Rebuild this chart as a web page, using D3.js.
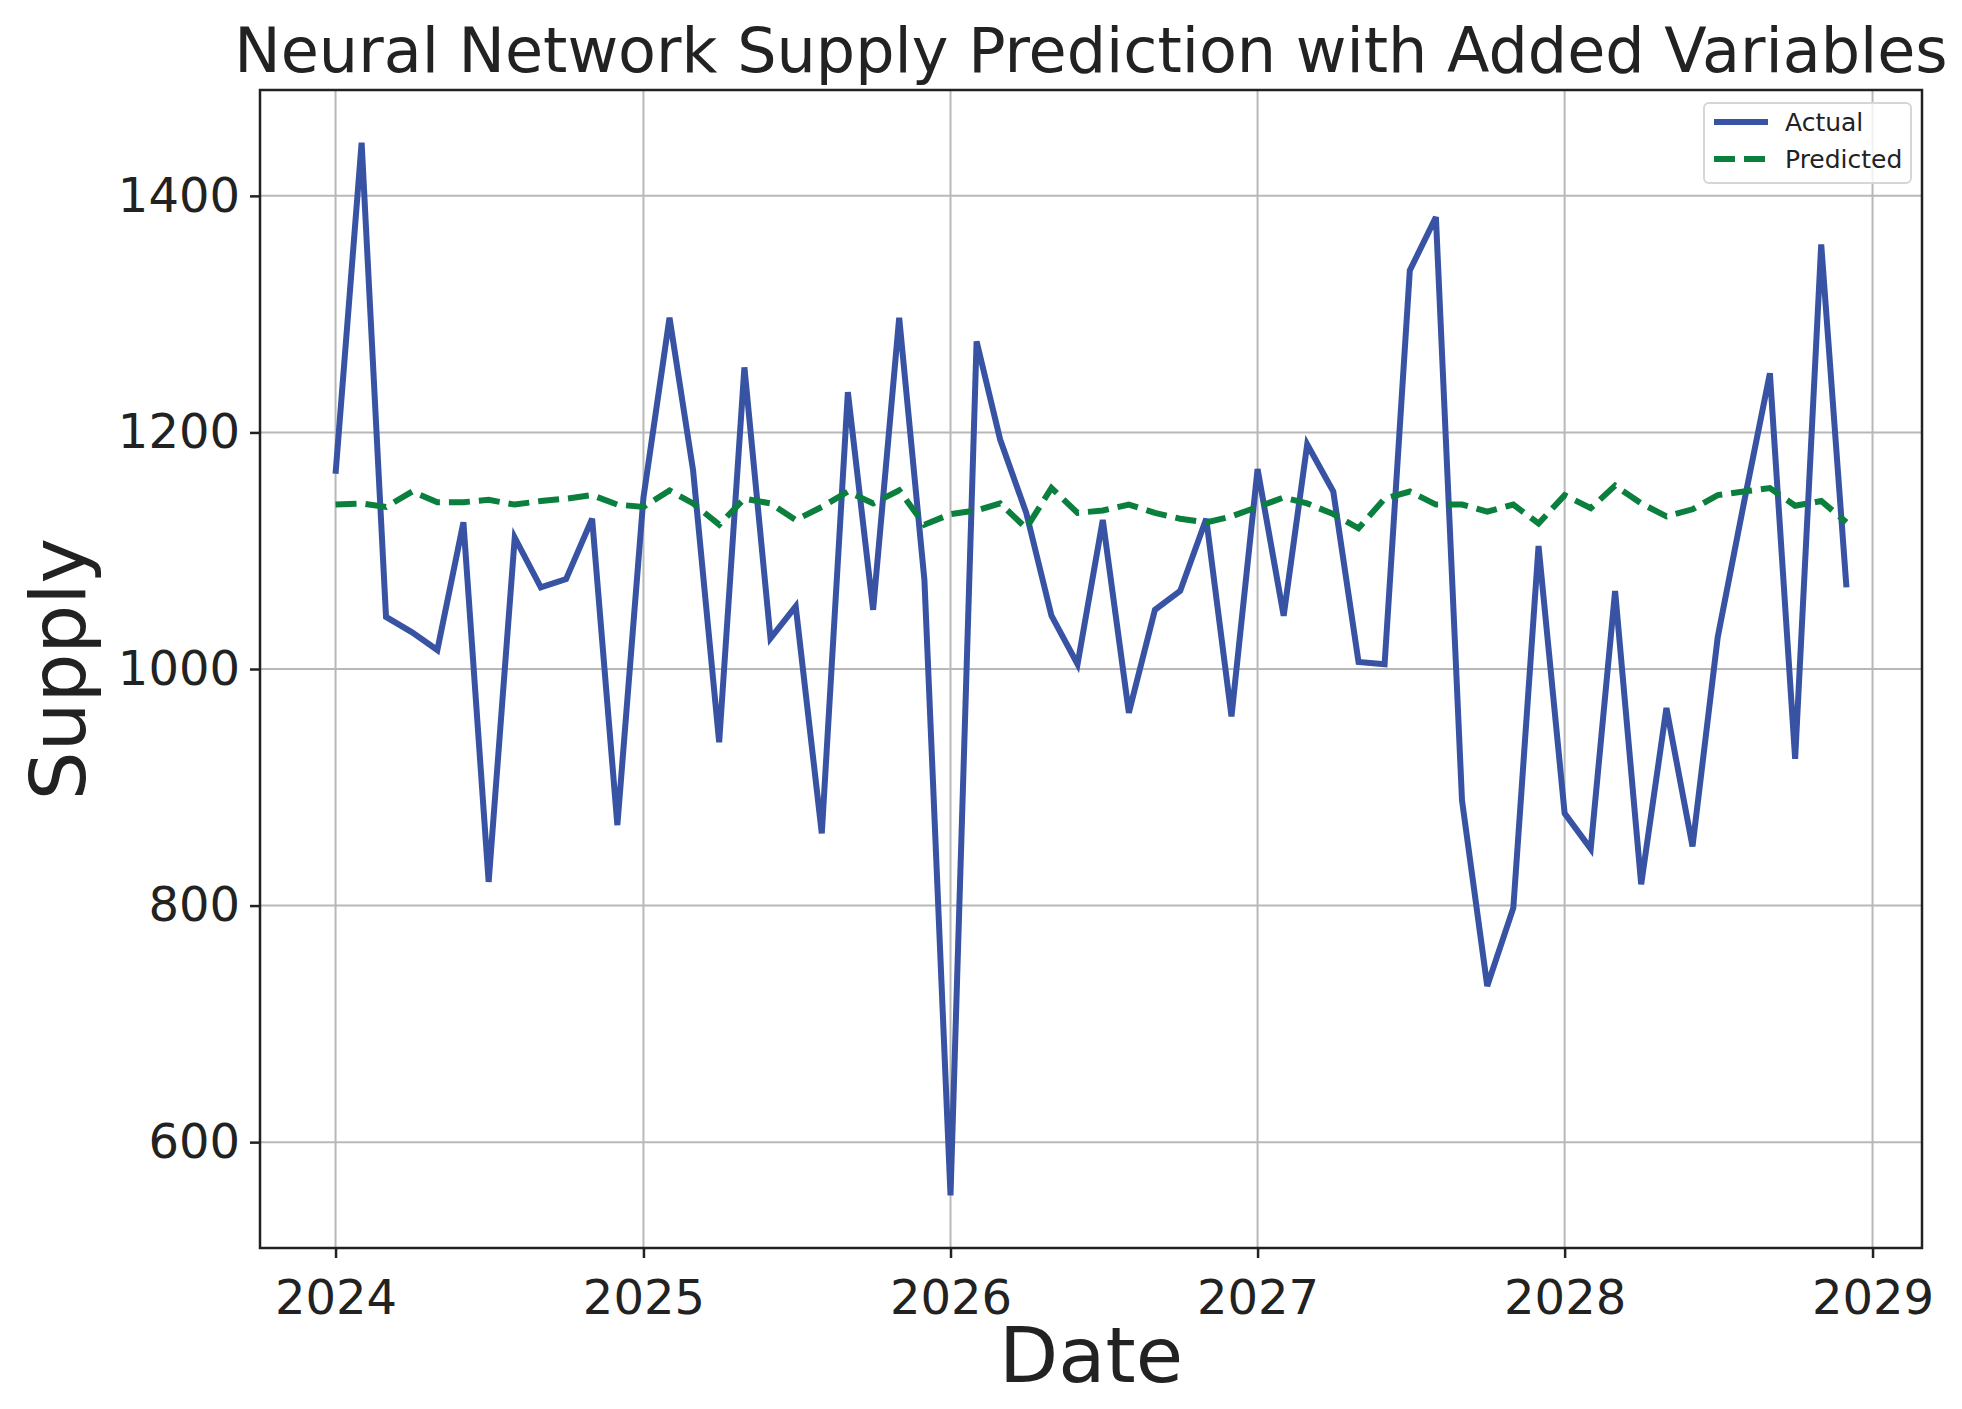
<!DOCTYPE html>
<html>
<head>
  <meta charset="utf-8">
  <style>
    body { margin: 0; background: #fff; }
    text { font-family: "DejaVu Sans", sans-serif; fill: #222; }
  </style>
</head>
<body>
<svg id="chart" width="1962" height="1409"></svg>
<script src="https://d3js.org/d3.v7.min.js"></script>
<script>
var months = d3.timeMonths(new Date(2024, 0, 1), new Date(2029, 0, 1));

var actual = [
  1165, 1445, 1044, 1031, 1016, 1124, 820, 1111, 1069, 1076, 1127, 868,
  1145, 1297, 1168, 938, 1255, 1026, 1053, 861, 1234, 1050, 1297, 1075,
  555, 1277, 1194, 1132, 1045, 1004, 1126, 963, 1050, 1066, 1127, 960,
  1169, 1045, 1190, 1150, 1006, 1004, 1337, 1382, 889, 732, 798, 1104,
  878, 848, 1066, 818, 967, 850, 1027, 1140, 1250, 924, 1359, 1069
];

var predicted = [
  1139, 1140, 1137, 1150, 1141, 1141, 1143, 1139, 1142, 1144, 1147, 1139,
  1137, 1151, 1140, 1122, 1144, 1140, 1126, 1137, 1150, 1140, 1151, 1122,
  1131, 1134, 1140, 1119, 1153, 1132, 1134, 1139, 1132, 1127, 1124, 1129,
  1137, 1145, 1140, 1131, 1119, 1144, 1150, 1139, 1139, 1133, 1139, 1123,
  1147, 1136, 1155, 1140, 1129, 1135, 1147, 1150, 1153, 1138, 1142, 1124
];

var yTicks = [600, 800, 1000, 1200, 1400];
var xTicks = [2024, 2025, 2026, 2027, 2028, 2029];
var seriesNames = ["Actual", "Predicted"];
var seriesColors = ["#3953a4", "#0b7f3e"];

var margin = {top: 90, right: 40, bottom: 161, left: 260},
    width = 1962 - margin.left - margin.right,
    height = 1409 - margin.top - margin.bottom;

var svg = d3.select("#chart")
  .append("g")
    .attr("transform", "translate(" + margin.left + "," + margin.top + ")");

// matplotlib style 5% padding on both axes
var t0 = months[0].getTime(), t1 = months[months.length - 1].getTime();
var tPad = (t1 - t0) * 0.05;
var x = d3.scaleTime()
    .domain([new Date(t0 - tPad), new Date(t1 + tPad)])
    .range([0, width]);

var all = actual.concat(predicted);
var yMin = d3.min(all), yMax = d3.max(all), yPad = (yMax - yMin) * 0.05;
var y = d3.scaleLinear()
    .domain([yMin - yPad, yMax + yPad])
    .range([height, 0]);

var xAxis = d3.axisBottom(x)
    .tickValues(xTicks.map(function(yr) { return new Date(yr, 0, 1); }))
    .tickFormat(d3.timeFormat("%Y"))
    .tickSize(10).tickPadding(10);

var yAxis = d3.axisLeft(y)
    .tickValues(yTicks)
    .tickFormat(d3.format("d"))
    .tickSize(10).tickPadding(10);

// grid
svg.append("g")
  .selectAll("line")
  .data(yTicks)
  .enter().append("line")
    .attr("x1", 0).attr("x2", width)
    .attr("y1", function(d) { return y(d); })
    .attr("y2", function(d) { return y(d); })
    .style("stroke", "#b8b8b8").style("stroke-width", 2);

svg.append("g")
  .selectAll("line")
  .data(xTicks)
  .enter().append("line")
    .attr("y1", 0).attr("y2", height)
    .attr("x1", function(d) { return x(new Date(d, 0, 1)); })
    .attr("x2", function(d) { return x(new Date(d, 0, 1)); })
    .style("stroke", "#b8b8b8").style("stroke-width", 2);

var gx = svg.append("g")
    .attr("transform", "translate(0," + height + ")")
    .call(xAxis);
var gy = svg.append("g").call(yAxis);

[gx, gy].forEach(function(g) {
  g.select(".domain").remove();
  g.selectAll(".tick line").style("stroke", "#222").style("stroke-width", 2.5);
  g.selectAll(".tick text")
    .style("font-family", "DejaVu Sans")
    .style("font-size", "48px")
    .style("fill", "#222");
});
gx.selectAll(".tick text").attr("dy", "0.95em");

// lines
var line = d3.line()
    .x(function(d, i) { return x(months[i]); })
    .y(function(d) { return y(d); });

svg.append("path")
    .datum(actual)
    .attr("d", line)
    .style("fill", "none")
    .style("stroke", seriesColors[0])
    .style("stroke-width", 6)
    .style("stroke-linejoin", "miter");

svg.append("path")
    .datum(predicted)
    .attr("d", line)
    .style("fill", "none")
    .style("stroke", seriesColors[1])
    .style("stroke-width", 6)
    .style("stroke-dasharray", "21,9");

// frame
svg.append("rect")
    .attr("width", width).attr("height", height)
    .style("fill", "none").style("stroke", "#222").style("stroke-width", 2.5);

// labels
svg.append("text")
    .attr("x", width / 2).attr("y", -18)
    .style("text-anchor", "middle")
    .style("font-size", "62px")
    .text("Neural Network Supply Prediction with Added Variables");

svg.append("text")
    .attr("x", width / 2).attr("y", height + 134)
    .style("text-anchor", "middle")
    .style("font-size", "77px")
    .text("Date");

svg.append("text")
    .attr("transform", "translate(" + (-175) + "," + (height / 2) + ") rotate(-90)")
    .style("text-anchor", "middle")
    .style("font-size", "77px")
    .text("Supply");

// legend
var legend = svg.append("g")
    .attr("transform", "translate(" + (width - 218) + ",13)");

legend.append("rect")
    .attr("width", 207).attr("height", 80)
    .attr("rx", 5)
    .style("fill", "rgba(255,255,255,0.8)")
    .style("stroke", "#d6d6d6").style("stroke-width", 2);

var item = legend.selectAll(".item")
    .data(seriesNames)
  .enter().append("g")
    .attr("class", "item")
    .attr("transform", function(d, i) { return "translate(0," + (19 + i * 37) + ")"; });

item.append("line")
    .attr("x1", 10).attr("x2", 64)
    .style("stroke", function(d, i) { return seriesColors[i]; })
    .style("stroke-width", 6)
    .style("stroke-dasharray", function(d, i) { return i ? "21,9" : null; });

item.append("text")
    .attr("x", 81).attr("dy", "0.36em")
    .style("font-size", "25px")
    .text(function(d) { return d; });
</script>
</body>
</html>
